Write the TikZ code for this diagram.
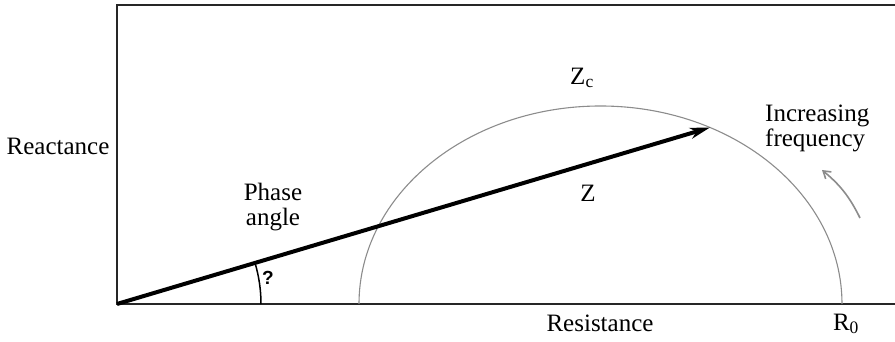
\documentclass[tikz,border=0pt]{standalone}
\usepackage{fontspec}
\setmainfont{Liberation Serif}
\setsansfont{Liberation Sans}
\usepackage{tikz}
\usetikzlibrary{arrows.meta,calc,positioning}
\definecolor{LocusGray}{HTML}{8C8C8C}

\begin{document}
\begin{tikzpicture}[x=1pt,y=1pt,
      lbl/.style={font=\fontsize{25}{25}\selectfont,inner sep=0pt},
      frame/.style={line width=2.2pt,draw=black!85},
      locus/.style={draw=LocusGray,line width=1.1pt},
      vec/.style={-{Stealth[length=20pt,width=11pt,inset=6pt]},line width=4pt},
      sweep/.style={-{Straight Barb[length=7pt,width=9pt]},draw=LocusGray,line width=1.6pt}]
      \useasboundingbox (0,0) rectangle (895,342);
      \coordinate (O) at (117,38);
      \coordinate (C) at (600.5,38);
      \coordinate (Zc) at ($(C)+(63.04:241.5pt and 198pt)$);
      \coordinate (s0) at (860,124);
      \coordinate (s1) at (822,172);
      % plot frame
      \draw[frame] (895,337) -- (117,337) -- (O) -- (895,38);
      % impedance locus
      \draw[locus] (359,38) arc[start angle=180,end angle=0,x radius=241.5,y radius=198];
      % phase angle arc
      \draw[line width=1.5pt] ($(O)+(144,0)$) arc[start angle=0,end angle=16.6,radius=144];
      \draw[vec] (O) -- (Zc);
      \draw[sweep] (s0) to[bend right=12] (s1);
      \node[lbl] (react) at (58,196) {Reactance};
      \node[lbl,align=center] (phase) at (273,135) {Phase\\angle};
      \node[font=\sffamily\bfseries\fontsize{19}{19}\selectfont,inner sep=0pt] (theta) at (268,64) {?};
      \node[lbl] (zc) at (582,264) {Z\textsubscript{c}};
      \node[lbl] (z) at (588,149) {Z};
      \node[lbl,anchor=west,align=left] (freq) at (765,214) {Increasing\\frequency};
      \node[lbl] (resist) at (600,19) {Resistance};
      \node[lbl] (r0) at (846,18) {R\textsubscript{0}};
    \end{tikzpicture}
\end{document}
